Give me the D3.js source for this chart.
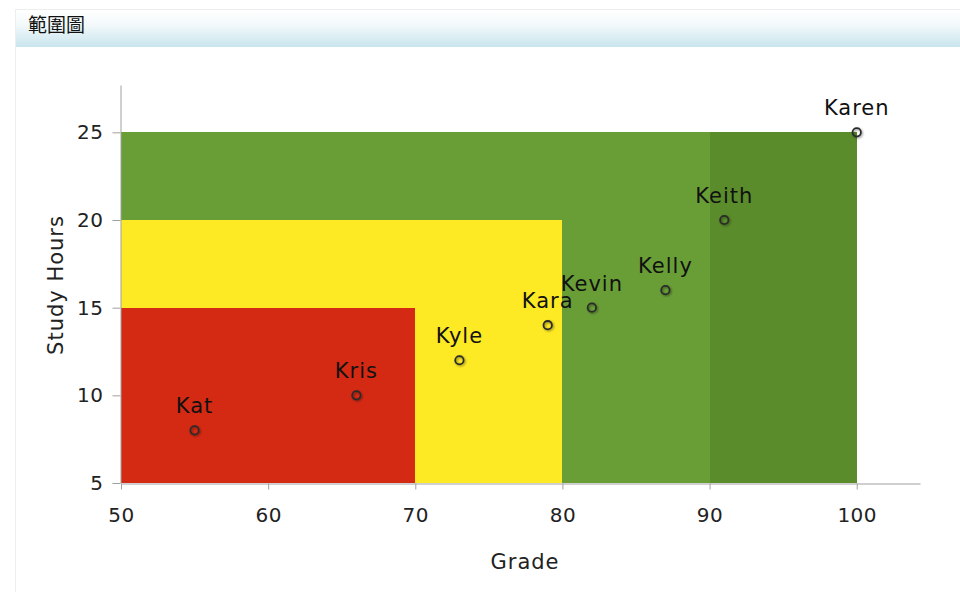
<!DOCTYPE html>
<html><head><meta charset="utf-8">
<script src="https://cdn.jsdelivr.net/npm/d3@7"></script>
<style>
body{margin:0;background:#fff;}
svg{display:block;}
</style></head>
<body>
<svg id="c" width="960" height="592"></svg>
<script>
const title = "範圍圖";
const names = ["Kat","Kris","Kyle","Kara","Kevin","Kelly","Keith","Karen"];
const grades = [55,66,73,79,82,87,91,100];
const hours = [8,10,12,14,15,16,20,25];
const bandX0 = [50,50,50,90];
const bandX1 = [90,80,70,100];
const bandY1 = [25,20,15,25];
const bandColors = ["#699e37","#fde924","#d42a14","#5a8c2b"];
const xTicks = [50,60,70,80,90,100];
const yTicks = [5,10,15,20,25];

const svg = d3.select("#c");
const defs = svg.append("defs");
const g1 = defs.append("linearGradient").attr("id","hdr").attr("x1",0).attr("y1",0).attr("x2",0).attr("y2",1);
g1.append("stop").attr("offset","0%").attr("stop-color","#ffffff");
g1.append("stop").attr("offset","40%").attr("stop-color","#f3f9fb");
g1.append("stop").attr("offset","100%").attr("stop-color","#c8e5ed");
const f = defs.append("filter").attr("id","sh").attr("x","-1").attr("y","-1").attr("width","3").attr("height","3");
f.append("feDropShadow").attr("dx",1).attr("dy",1).attr("stdDeviation",1.2).attr("flood-color","#000").attr("flood-opacity",0.45);

// frame
svg.append("line").attr("x1",15).attr("x2",960).attr("y1",9.5).attr("y2",9.5).attr("stroke","#eee");
svg.append("line").attr("x1",15.5).attr("x2",15.5).attr("y1",9).attr("y2",592).attr("stroke","#eee");
svg.append("rect").attr("x",16).attr("y",10).attr("width",944).attr("height",37).attr("fill","url(#hdr)");
svg.append("text").attr("x",28).attr("y",32).text(title)
  .attr("font-family","'Noto Sans CJK TC'").attr("font-size",19).attr("fill","#111");

const x = d3.scaleLinear().domain([50,104.3]).range([121,920]);
const y = d3.scaleLinear().domain([5,27.7]).range([483,85]);

const bands = svg.append("g").attr("shape-rendering","crispEdges");
const order = [0,3,1,2];
order.forEach(i=>{
  bands.append("rect")
    .attr("x",Math.round(x(bandX0[i]))).attr("width",Math.round(x(bandX1[i]))-Math.round(x(bandX0[i])))
    .attr("y",Math.round(y(bandY1[i]))).attr("height",Math.round(y(5))-Math.round(y(bandY1[i])))
    .attr("fill",bandColors[i]);
});

const font = "'DejaVu Sans'";
const xa = svg.append("g").attr("transform","translate(0,483.5)")
  .call(d3.axisBottom(x).tickValues(xTicks).tickSize(6).tickSizeOuter(0).tickPadding(18));
const ya = svg.append("g").attr("transform","translate(120.5,0)")
  .call(d3.axisLeft(y).tickValues(yTicks).tickSize(8).tickSizeOuter(0).tickPadding(9));
[xa,ya].forEach(a=>{
  a.select(".domain").attr("stroke","#a0a0a0");
  a.selectAll(".tick line").attr("stroke","#a0a0a0");
  a.selectAll("text").attr("font-family",font).attr("font-size",20).attr("letter-spacing",0.5).attr("fill","#222");
});

svg.append("text").attr("x",525).attr("y",569).attr("text-anchor","middle")
  .attr("font-family",font).attr("font-size",21).attr("letter-spacing",1).attr("fill","#222").text("Grade");
svg.append("text").attr("transform","translate(63,285) rotate(-90)").attr("text-anchor","middle")
  .attr("font-family",font).attr("font-size",21).attr("letter-spacing",1).attr("fill","#222").text("Study Hours");

const pts = svg.append("g");
names.forEach((n,i)=>{
  pts.append("circle").attr("cx",x(grades[i])).attr("cy",y(hours[i])).attr("r",4.2)
    .attr("fill","none").attr("stroke","#2a2a2a").attr("stroke-width",1.8).attr("filter","url(#sh)");
  pts.append("text").attr("x",x(grades[i])).attr("y",y(hours[i])-17).attr("text-anchor","middle")
    .attr("font-family",font).attr("font-size",21).attr("letter-spacing",1).attr("fill","#111").text(n);
});
</script>
</body></html>
